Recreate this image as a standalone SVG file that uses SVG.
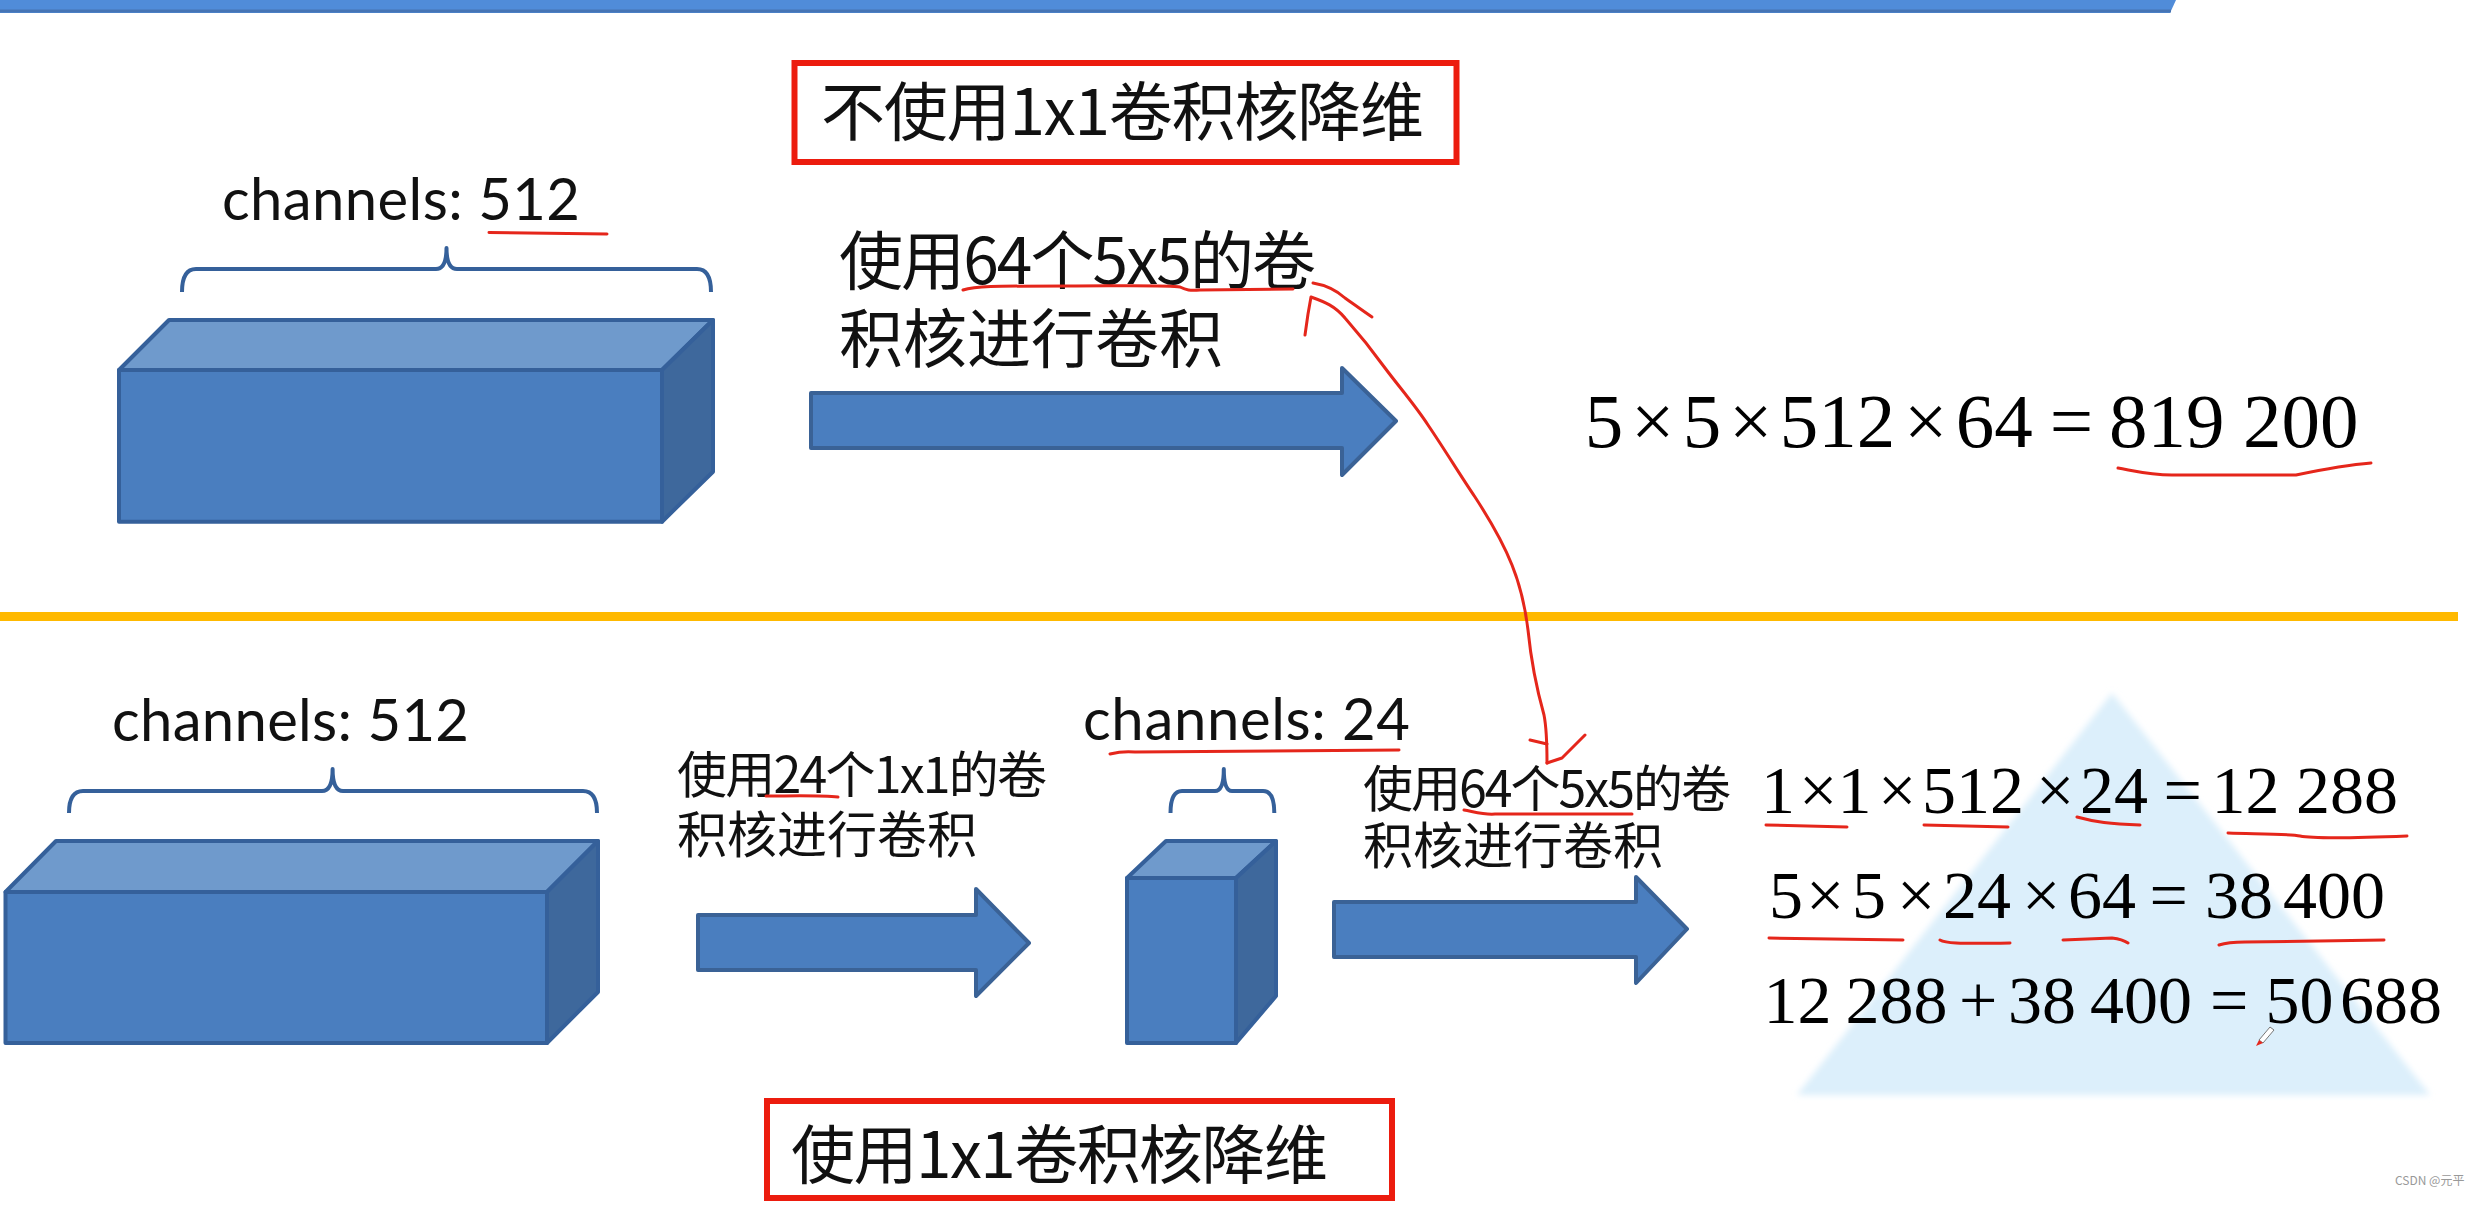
<svg xmlns="http://www.w3.org/2000/svg" width="2478" height="1205" viewBox="0 0 2478 1205">
<style>
.cn{font-family:"Noto Sans CJK SC","Noto Sans",sans-serif;fill:#111;}
.lat{font-family:Lato,"Open Sans",sans-serif;fill:#111;}
.eq{font-family:"Liberation Serif","Times New Roman",serif;fill:#000;}
.front{fill:#4A7EBF;}
.top{fill:#6F9ACC;}
.side{fill:#3E689C;}
.cube path{stroke:#35609A;stroke-width:4;stroke-linejoin:round;}
.blk{fill:#4A7EBF;stroke:#3A6296;stroke-width:4;stroke-linejoin:round;}
.brace{fill:none;stroke:#4472C4;stroke-width:2.5;}
.ink{fill:none;stroke:#E5261B;stroke-width:3;stroke-linecap:round;stroke-linejoin:round;}
.redbox{fill:#fff;stroke:#EC1C0E;stroke-width:6;}
</style>
<defs>
<filter id="soft" x="-5%" y="-5%" width="110%" height="110%"><feGaussianBlur stdDeviation="3"/></filter>
</defs>
<rect width="2478" height="1205" fill="#fff"/>

<g id="top-bar">
<path d="M0,0 H2176 L2170,13 H0 Z" fill="#508CD9"/>
<path d="M0,11 H2171" stroke="#4674B4" stroke-width="3"/>
</g>

<g id="separator">
<rect x="0" y="612" width="2458" height="9" fill="#FFB900"/>
</g>

<g id="triangle-bg">
<polygon points="2112,693 1797,1095 2430,1095" fill="#DCEFFB" filter="url(#soft)"/>
</g>

<g id="title-top">
<rect class="redbox" x="794.5" y="63" width="662" height="99"/>
<text class="cn" x="821" y="135" font-size="64" textLength="603">不使用1x1卷积核降维</text>
</g>

<g id="cube-top" class="cube">
<text class="lat" x="222" y="220" font-size="58" textLength="358">channels: 512</text>
<path class="brace" d="M182,292 Q182,269 196,269 L436,269 Q446.5,269 446.5,248 Q446.5,269 457,269 L697,269 Q711,269 711,292"/>
<path class="front" d="M119,370 H662 V521.7 H119 Z"/>
<path class="top" d="M119,370 L169,320 H713 L662,370 Z"/>
<path class="side" d="M662,370 L713,320 V471.7 L662,521.7 Z"/>
</g>

<g id="label-top">
<text class="cn" x="839" y="284" font-size="64" textLength="477">使用64个5x5的卷</text>
<text class="cn" x="839" y="362" font-size="64">积核进行卷积</text>
</g>

<g id="eq-top" class="eq" font-size="77">
<text y="447"><tspan x="1584.7">5</tspan><tspan x="1631">×</tspan><tspan x="1682.7">5</tspan><tspan x="1729">×</tspan><tspan x="1779.7">512</tspan><tspan x="1904">×</tspan><tspan x="1955.7">64</tspan><tspan x="2049.7">=</tspan><tspan x="2109">819</tspan><tspan x="2243">200</tspan></text>
</g>

<g id="cube-bottom-in" class="cube">
<text class="lat" x="112" y="741" font-size="58" textLength="357">channels: 512</text>
<path class="brace" d="M69,813 Q69,791 83,791 L322,791 Q332.6,791 332.6,769 Q332.6,791 343,791 L583,791 Q597,791 597,813"/>
<path class="front" d="M5.5,892 H547 V1043 H5.5 Z"/>
<path class="top" d="M5.5,892 L56,841 H598 L547,892 Z"/>
<path class="side" d="M547,892 L598,841 V992 L547,1043 Z"/>
</g>

<g id="label-1x1">
<text class="cn" x="677" y="793" font-size="50" textLength="370">使用24个1x1的卷</text>
<text class="cn" x="677" y="853" font-size="50">积核进行卷积</text>
</g>

<g id="cube-bottom-mid" class="cube">
<text class="lat" x="1083" y="740" font-size="58" textLength="327">channels: 24</text>
<path class="brace" d="M1170.5,813 Q1170.5,791 1182,791 L1215,791 Q1223.8,791 1223.8,769 Q1223.8,791 1232,791 L1263,791 Q1274.3,791 1274.3,813"/>
<path class="front" d="M1127,878 H1236 V1043 H1127 Z"/>
<path class="top" d="M1127,878 L1166,841 H1276 L1236,878 Z"/>
<path class="side" d="M1236,878 L1276,841 V996 L1236,1043 Z"/>
</g>

<g id="label-5x5">
<text class="cn" x="1363" y="807" font-size="50" textLength="368">使用64个5x5的卷</text>
<text class="cn" x="1363" y="864" font-size="50">积核进行卷积</text>
</g>

<g id="eq-bottom" class="eq" font-size="68">
<text y="813"><tspan x="1761">1</tspan><tspan x="1799">×</tspan><tspan x="1837.5">1</tspan><tspan x="1878">×</tspan><tspan x="1922">512</tspan><tspan x="2036">×</tspan><tspan x="2080">24</tspan><tspan x="2163.5">=</tspan><tspan x="2211.5">12</tspan><tspan x="2296">288</tspan></text>
<text y="918"><tspan x="1769">5</tspan><tspan x="1806">×</tspan><tspan x="1852">5</tspan><tspan x="1897">×</tspan><tspan x="1943">24</tspan><tspan x="2022">×</tspan><tspan x="2068">64</tspan><tspan x="2149.6">=</tspan><tspan x="2205">38</tspan><tspan x="2283">400</tspan></text>
<text y="1023"><tspan x="1763.5">12</tspan><tspan x="1845.5">288</tspan><tspan x="1959">+</tspan><tspan x="2008">38</tspan><tspan x="2090">400</tspan><tspan x="2210">=</tspan><tspan x="2265.6">50</tspan><tspan x="2340">688</tspan></text>
</g>

<g id="title-bottom">
<rect class="redbox" x="767" y="1101" width="625" height="97"/>
<text class="cn" x="791" y="1178" font-size="64" textLength="537">使用1x1卷积核降维</text>
</g>

<g id="connectors">
<path class="blk" d="M811,393 H1342 V368 L1396,421 L1342,475 V448 H811 Z"/>
<path class="blk" d="M698,915 H976 V889 L1029,943 L976,996 V970 H698 Z"/>
<path class="blk" d="M1334,902 H1636 V877 L1687,929 L1636,983 V957 H1334 Z"/>
<path class="ink" d="M1305,335 L1308,314 L1311,297 C1325,302 1335,306 1345,318 C1360,335 1372,350 1385,368 C1400,388 1415,405 1428,425 C1445,450 1460,475 1475,497 C1490,520 1502,540 1512,565 C1520,585 1525,605 1528,630 C1531,660 1537,690 1544,715 C1547,730 1547,750 1547,763"/>
<path class="ink" d="M1313,283 C1325,285 1335,289 1345,298 C1355,305 1363,311 1372,317"/>
<path class="ink" d="M1530,740 L1547,744 M1547,763 L1556,760 L1562,758 L1585,735"/>
</g>

<g id="annotations">
<path class="ink" d="M489,232.5 L607,234"/>
<path class="ink" d="M963,290 C975,286 990,286 1068,286 C1120,286 1170,285 1180,287 C1186,290 1190,291 1200,290 L1293,289"/>
<path class="ink" d="M2118,468 C2135,471 2150,475 2172,475 L2296,475 C2320,470 2345,465 2371,463"/>
<path class="ink" d="M1110,754 C1118,752 1125,751 1135,752 L1399,750"/>
<path class="ink" d="M766,796 C790,796 820,795 838,797"/>
<path class="ink" d="M1464,810 C1475,812 1485,815 1495,814 L1632,814"/>
<path class="ink" d="M1766,825 L1847,827 M1924,825 L2008,827 M2077,817 C2095,822 2110,824 2140,825 M2228,833 C2260,834 2290,834 2300,836 C2310,838 2330,839 2407,836"/>
<path class="ink" d="M1769,938 L1903,940 M1940,940 C1945,943 1955,944 2010,943 M2063,940 L2112,938 C2120,939 2125,941 2128,943 M2219,945 C2225,943 2230,942 2245,942 L2384,940"/>
<path d="M2259,1040 L2270,1027 L2274,1030 L2263,1043 Z" fill="#fff" stroke="#777" stroke-width="1"/>
<path d="M2256,1046 L2259,1040 L2263,1043 Z" fill="#E5261B"/>
</g>

<g id="watermark">
<text class="cn" x="2395" y="1185" font-size="12" style="fill:#999">CSDN @元平</text>
</g>
</svg>
